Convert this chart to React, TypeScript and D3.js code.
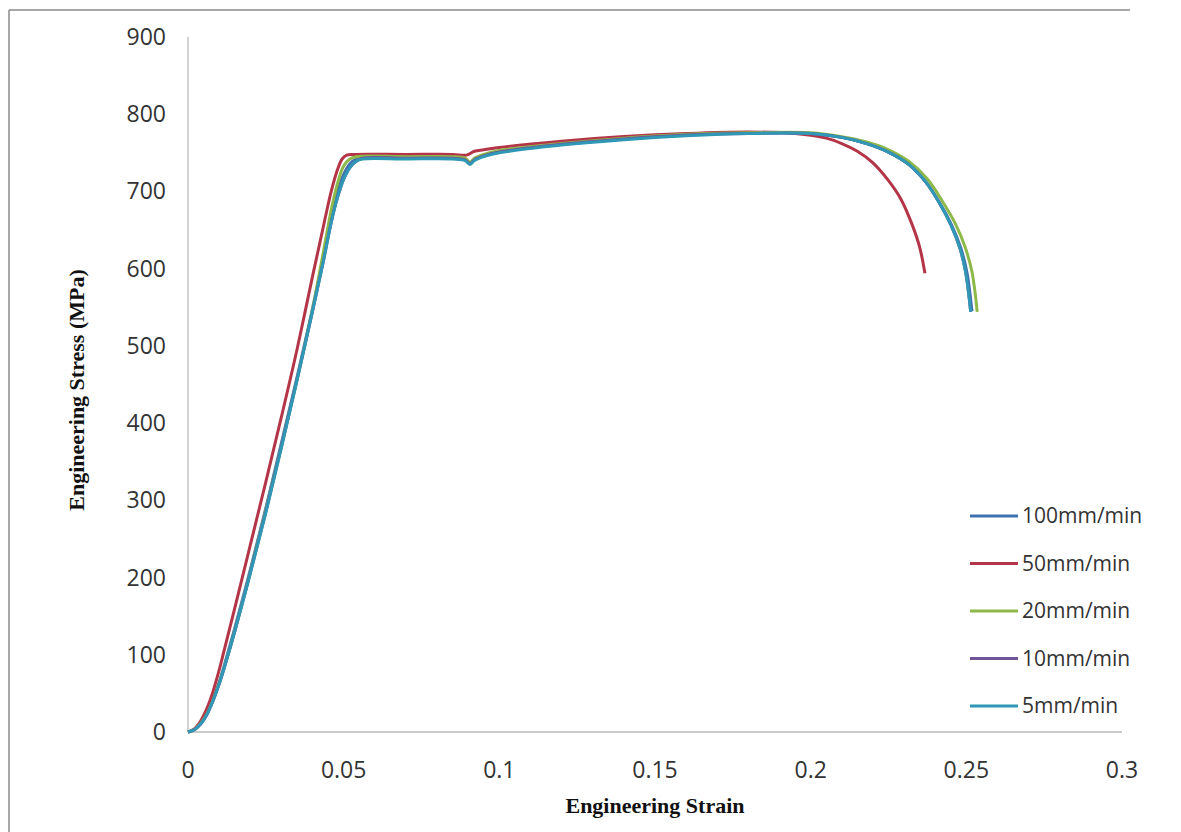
import React from 'react';
import * as d3 from 'd3';

// strain / stress readings per crosshead speed
const s100: [number, number][] = [
  [0, 0], [0.002, 3], [0.004, 11], [0.006, 24], [0.008, 42], [0.01, 64], [0.012, 91], [0.015, 134],
  [0.02, 210], [0.025, 290], [0.03, 374], [0.035, 459], [0.04, 548], [0.0435, 614], [0.046, 666],
  [0.048, 698], [0.05, 722], [0.052, 736], [0.054, 742], [0.056, 744], [0.07, 744], [0.085, 744],
  [0.089, 742], [0.0906, 737], [0.092, 742], [0.095, 747], [0.1, 752], [0.12, 761], [0.14, 768],
  [0.16, 773], [0.18, 776], [0.2, 775], [0.21, 770], [0.218, 762], [0.225, 751], [0.2315, 735],
  [0.237, 712], [0.2416, 684], [0.2452, 657], [0.2482, 627], [0.2502, 595], [0.2518, 545],
];
const s50: [number, number][] = [
  [0, 0], [0.002, 4], [0.004, 14], [0.006, 30], [0.008, 52], [0.01, 80], [0.012, 112], [0.015, 160],
  [0.02, 242], [0.025, 324], [0.03, 408], [0.035, 495], [0.04, 590], [0.0435, 655], [0.046, 700],
  [0.048, 728], [0.0495, 742], [0.051, 747], [0.053, 748], [0.07, 748], [0.085, 748], [0.0895, 747],
  [0.092, 752], [0.095, 754], [0.1, 757], [0.12, 765], [0.14, 771], [0.16, 775], [0.18, 777],
  [0.195, 775], [0.205, 769], [0.21, 762], [0.215, 752], [0.22, 737], [0.225, 714], [0.229, 690],
  [0.2325, 658], [0.235, 628], [0.2367, 594],
];
const s20: [number, number][] = [
  [0, 0], [0.002, 3], [0.004, 11], [0.006, 23], [0.008, 41], [0.01, 63], [0.012, 89], [0.015, 131],
  [0.02, 207], [0.025, 287], [0.03, 370], [0.035, 456], [0.04, 548], [0.0435, 622], [0.046, 676],
  [0.048, 710], [0.05, 733], [0.052, 742], [0.054, 745], [0.07, 745], [0.085, 745], [0.089, 743],
  [0.0906, 738], [0.092, 743], [0.095, 748], [0.1, 753], [0.12, 762], [0.14, 769], [0.16, 774],
  [0.18, 776], [0.2, 776], [0.21, 771], [0.218, 764], [0.225, 754], [0.2315, 739], [0.2375, 716],
  [0.2425, 686], [0.2465, 658], [0.2496, 628], [0.2518, 596], [0.2535, 544],
];
const s10: [number, number][] = [
  [0, 0], [0.002, 3], [0.004, 10], [0.006, 22], [0.008, 40], [0.01, 62], [0.012, 88], [0.015, 130],
  [0.02, 206], [0.025, 285], [0.03, 370], [0.035, 456], [0.04, 545], [0.0435, 610], [0.046, 660],
  [0.048, 692], [0.05, 716], [0.052, 731], [0.054, 739], [0.056, 743], [0.07, 743], [0.085, 743],
  [0.089, 741], [0.0906, 736], [0.092, 741], [0.095, 746], [0.1, 751], [0.12, 761], [0.14, 768],
  [0.16, 773], [0.18, 775], [0.2, 775], [0.21, 770], [0.218, 762], [0.225, 751], [0.2315, 735],
  [0.237, 712], [0.2415, 684], [0.245, 657], [0.2479, 627], [0.2498, 595], [0.2514, 544],
];
const s5: [number, number][] = [
  [0, 0], [0.002, 3], [0.004, 10], [0.006, 22], [0.008, 40], [0.01, 62], [0.012, 88], [0.015, 130],
  [0.02, 205], [0.025, 284], [0.03, 368], [0.035, 455], [0.04, 545], [0.0435, 610], [0.046, 660],
  [0.048, 692], [0.05, 716], [0.052, 731], [0.054, 739], [0.056, 742], [0.07, 742], [0.085, 742],
  [0.089, 740], [0.0906, 735], [0.092, 740], [0.095, 745], [0.1, 750], [0.12, 760], [0.14, 767],
  [0.16, 772], [0.18, 775], [0.2, 775], [0.21, 770], [0.218, 762], [0.225, 751], [0.2315, 735],
  [0.237, 712], [0.2415, 684], [0.245, 657], [0.2479, 627], [0.2498, 595], [0.2514, 544],
];

const seriesNames = ['100mm/min', '50mm/min', '20mm/min', '10mm/min', '5mm/min'];
const seriesData = [s100, s50, s20, s10, s5];
const seriesColors = ['#3F72B0', '#B43548', '#8DB84A', '#6E5499', '#2F98B6'];

const xTicks = [0, 0.05, 0.1, 0.15, 0.2, 0.25, 0.3];
const yTicks = [0, 100, 200, 300, 400, 500, 600, 700, 800, 900];

const W = 1181;
const H = 832;

const App = () => {
  const x = d3.scaleLinear().domain([0, 0.3]).range([188, 1122]);
  const y = d3.scaleLinear().domain([0, 900]).range([732, 37]);

  const line = d3
    .line<[number, number]>()
    .x((d) => x(d[0]))
    .y((d) => y(d[1]))
    .curve(d3.curveCatmullRom.alpha(0.5));

  const tickFont = "'Open Sans', sans-serif";
  const titleFont = "'Liberation Serif', 'Times New Roman', serif";

  return (
    <svg width={W} height={H} style={{ position: 'absolute', left: 0, top: 0, background: '#fff' }}>
      {/* outer frame */}
      <line x1={9} y1={10} x2={1130} y2={10} stroke="#8a8a8a" strokeWidth={1.5} />
      <line x1={9} y1={10} x2={9} y2={832} stroke="#8a8a8a" strokeWidth={1.5} />

      {/* axes */}
      <line x1={x(0)} y1={y(0)} x2={x(0)} y2={y(900)} stroke="#c4c4c4" strokeWidth={1.5} />
      <line x1={x(0)} y1={y(0)} x2={x(0.3)} y2={y(0)} stroke="#b8b8b8" strokeWidth={1.5} />

      {yTicks.map((t) => (
        <text key={'y' + t} x={166} y={y(t)} dy="0.35em" textAnchor="end"
          fontFamily={tickFont} fontSize={23} fill="#333">
          {t}
        </text>
      ))}
      {xTicks.map((t) => (
        <text key={'x' + t} x={x(t)} y={770} dy="0.35em" textAnchor="middle"
          fontFamily={tickFont} fontSize={23} fill="#333">
          {t}
        </text>
      ))}

      {seriesData.map((d, i) => (
        <path key={seriesNames[i]} d={line(d) || ''} fill="none"
          stroke={seriesColors[i]} strokeWidth={3} strokeLinejoin="round" />
      ))}

      {/* legend */}
      {seriesNames.map((n, i) => {
        const ly = 516 + i * 47.5;
        return (
          <g key={'lg' + n}>
            <line x1={970} x2={1018} y1={ly} y2={ly} stroke={seriesColors[i]} strokeWidth={3} />
            <text x={1022} y={ly} dy="0.35em" fontFamily={tickFont} fontSize={21} fill="#333">
              {n}
            </text>
          </g>
        );
      })}

      <text x={655} y={805} dy="0.35em" textAnchor="middle"
        fontFamily={titleFont} fontWeight="bold" fontSize={22} fill="#111">
        Engineering Strain
      </text>
      <text transform={`translate(76, 390) rotate(-90)`} dy="0.35em" textAnchor="middle"
        fontFamily={titleFont} fontWeight="bold" fontSize={22} fill="#111">
        Engineering Stress (MPa)
      </text>
    </svg>
  );
};

export default App;
